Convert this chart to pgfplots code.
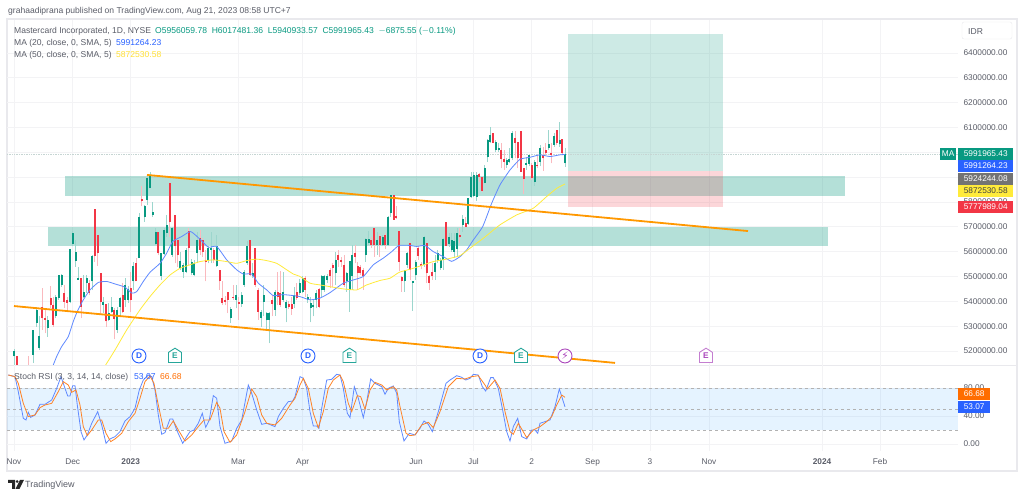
\documentclass[border=0pt]{standalone}
\usepackage{pgfplots}
\usepackage{pgfplotstable}
\usepackage{fontspec}
\setmainfont{Liberation Sans}
\newfontfamily\djv{DejaVu Sans}
\pgfplotsset{compat=1.18}
\definecolor{up}{HTML}{089981}
\definecolor{dn}{HTML}{F23645}
\definecolor{bluem}{HTML}{2962FF}
\definecolor{yel}{HTML}{FFEB3B}
\definecolor{org}{HTML}{FF9800}
\definecolor{txt}{HTML}{5A5D68}
\definecolor{gridc}{HTML}{F3F3F5}
\definecolor{framec}{HTML}{E9E9ED}
\definecolor{rsiorg}{HTML}{FF6D00}
\definecolor{evpurple}{HTML}{AB47BC}
\definecolor{evteal}{HTML}{26A69A}
\pgfdeclareplotmark{house}{%
  \pgfpathmoveto{\pgfqpoint{-\pgfplotmarksize}{-\pgfplotmarksize}}%
  \pgfpathlineto{\pgfqpoint{\pgfplotmarksize}{-\pgfplotmarksize}}%
  \pgfpathlineto{\pgfqpoint{\pgfplotmarksize}{0.55\pgfplotmarksize}}%
  \pgfpathlineto{\pgfqpoint{0pt}{1.2\pgfplotmarksize}}%
  \pgfpathlineto{\pgfqpoint{-\pgfplotmarksize}{0.55\pgfplotmarksize}}%
  \pgfpathclose\pgfusepathqfillstroke}
% x = horizontal bar position, prices in thousands of IDR
\pgfplotstableread{
x h l t b
14 5207 5137 5198 5178
33.3 5285 5151 5285 5184
36.7 5379 5298 5366 5312
39.3 5339 5204 5261 5211
47.7 5339 5258 5325 5292
55.7 5426 5332 5419 5339
58.7 5506 5406 5506 5413
61.7 5509 5459 5506 5466
70 5610 5392 5610 5399
72.7 5685 5621 5674 5631
75.7 5647 5540 5600 5563
78.3 5540 5486 5493 5486
83.7 5506 5413 5439 5419
86.7 5506 5433 5493 5473
92 5587 5446 5584 5480
103.3 5419 5352 5399 5386
108.7 5392 5319 5352 5325
111.7 5419 5352 5379 5359
117 5379 5272 5366 5285
120 5419 5339 5413 5379
125.3 5493 5379 5466 5406
128 5460 5395 5450 5406
133.3 5560 5446 5543 5480
139 5755 5574 5739 5574
144.7 5788 5721 5782 5741
147.3 5913 5788 5896 5808
150 5922 5855 5909 5855
152.7 5798 5741 5761 5748
155.7 5694 5627 5681 5631
161.3 5596 5486 5596 5500
164 5694 5587 5688 5591
166.7 5748 5661 5708 5677
172.3 5701 5580 5694 5587
180.3 5600 5527 5564 5533
183.3 5553 5493 5547 5520
186 5614 5513 5607 5520
191.7 5570 5505 5560 5513
194.3 5567 5500 5553 5506
197 5681 5553 5647 5594
208.3 5621 5553 5614 5567
211 5681 5553 5614 5607
216.7 5667 5540 5621 5543
230.7 5379 5312 5370 5332
236 5466 5372 5426 5406
241.7 5439 5379 5426 5390
244.3 5527 5459 5520 5466
247 5641 5547 5621 5553
252.7 5553 5493 5513 5500
261 5366 5298 5359 5332
263.7 5466 5339 5426 5399
266.7 5359 5285 5352 5323
269 5359 5231 5355 5325
275 5446 5341 5439 5366
283 5520 5399 5439 5406
286 5406 5315 5399 5372
294.3 5459 5372 5426 5390
299.7 5490 5425 5473 5433
302.7 5500 5433 5493 5439
307.7 5430 5395 5419 5406
310.7 5419 5315 5392 5372
313.3 5406 5339 5386 5379
316 5446 5372 5435 5406
321.7 5506 5419 5500 5446
324.3 5506 5439 5502 5446
327 5510 5475 5500 5486
335.7 5600 5466 5567 5513
346.7 5520 5439 5513 5480
349.7 5564 5359 5564 5446
352.3 5627 5446 5587 5500
365.7 5654 5560 5651 5587
368.7 5685 5627 5650 5634
377 5681 5587 5647 5625
382.7 5667 5621 5661 5627
388 5744 5621 5739 5625
390.7 5829 5741 5829 5755
404.7 5527 5439 5527 5480
407.3 5600 5533 5596 5547
412.7 5480 5363 5480 5473
415.7 5567 5486 5560 5506
424 5663 5540 5661 5547
435 5587 5486 5553 5520
437.7 5605 5555 5594 5567
440.7 5574 5527 5567 5533
443.3 5654 5527 5650 5567
449 5675 5620 5661 5631
451.7 5674 5600 5645 5607
454.3 5674 5574 5641 5600
457 5694 5580 5674 5610
462.7 5748 5681 5732 5708
468.3 5815 5708 5815 5712
471 5922 5815 5900 5819
473.7 5922 5822 5909 5824
476.7 5922 5806 5909 5822
484.7 5949 5876 5936 5876
487.7 6053 5963 6050 5980
490.3 6104 6037 6070 6043
495.7 6050 6000 6043 6010
498.7 6039 6003 6016 6010
506.7 5976 5936 5969 5949
509.3 6016 5956 5972 5963
512.3 6084 5969 6079 5976
526.3 5983 5929 5956 5949
529 5990 5943 5990 5953
534.7 5969 5865 5963 5882
540 6030 5943 6016 5963
548.7 6088 6010 6032 6016
554 6077 6023 6066 6030
559.7 6124 6023 6050 6032
565 6017 5941 5992 5956
}\greens
\pgfplotstableread{
x h l t b
17.3 5180 5130 5180 5137
28.3 5178 5137 5140 5135
42.3 5453 5285 5379 5332
45 5366 5272 5332 5325
50.7 5462 5372 5413 5386
53.3 5419 5298 5386 5305
64.3 5466 5372 5435 5399
67.3 5419 5359 5406 5395
81 5493 5332 5493 5379
89.3 5485 5425 5473 5435
94.7 5771 5560 5771 5584
97.7 5667 5544 5667 5594
100.7 5516 5345 5513 5399
106 5390 5298 5390 5319
114.3 5372 5247 5366 5328
122.7 5473 5352 5426 5359
130.7 5520 5359 5453 5406
136.3 5574 5480 5553 5480
141.7 5865 5782 5811 5802
158.3 5678 5587 5678 5594
169.7 5878 5661 5878 5721
175 5748 5553 5748 5621
177.7 5647 5540 5647 5587
188.7 5694 5547 5685 5614
200 5688 5587 5654 5607
202.7 5654 5580 5647 5600
205.7 5607 5480 5567 5560
213.7 5614 5555 5607 5567
219.7 5527 5446 5527 5480
222.3 5480 5386 5413 5392
225 5420 5385 5406 5399
227.7 5439 5352 5439 5406
233.3 5466 5406 5419 5413
238.7 5419 5325 5399 5390
250 5647 5500 5647 5506
255.3 5616 5459 5616 5466
258.3 5453 5325 5446 5359
272 5426 5339 5406 5390
277.7 5520 5386 5439 5419
280.3 5523 5379 5435 5386
288.7 5400 5370 5390 5379
291.7 5419 5345 5390 5368
296.7 5473 5406 5439 5413
305 5500 5419 5493 5446
319 5453 5372 5449 5379
330 5533 5453 5527 5500
332.7 5553 5459 5547 5533
338 5607 5540 5587 5567
341 5580 5540 5567 5560
344 5587 5459 5547 5466
355 5625 5553 5594 5580
357.7 5560 5446 5543 5513
360.3 5547 5506 5540 5513
363.3 5533 5446 5527 5500
371.3 5660 5615 5647 5627
374 5694 5580 5694 5627
379.7 5672 5580 5663 5627
385.3 5675 5610 5667 5625
393.7 5829 5728 5829 5728
396.3 5782 5731 5745 5737
399 5685 5524 5685 5560
401.7 5500 5439 5497 5480
410 5634 5484 5634 5527
418.3 5621 5567 5614 5583
421 5560 5530 5551 5544
426.7 5634 5473 5634 5513
429.3 5506 5446 5500 5473
432.3 5553 5486 5520 5500
446 5721 5621 5721 5623
459.7 5694 5634 5667 5658
465.7 5741 5701 5717 5701
479.3 5916 5882 5913 5902
482 5902 5842 5902 5846
493 6079 6037 6079 6039
501.3 6037 5936 6010 5972
504 6010 5929 5972 5963
515 6084 5976 6057 6037
517.7 6043 5936 6043 5976
520.7 6086 5922 6086 5922
523.7 5936 5833 5936 5892
531.7 5956 5889 5949 5896
537.3 5990 5936 5949 5943
543 6023 5926 5990 5976
545.7 6037 5990 6010 5996
551.3 6037 5956 5996 5990
556.7 6090 6030 6090 6037
562.3 6054 5990 6054 5996
}\reds
\pgfplotstableread{
x v
53.3 5144
56.7 5178
61.7 5218
68.3 5258
73.3 5319
77.3 5359
83.3 5406
90 5446
98.3 5476
106.7 5480
115 5470
125 5457
131.7 5433
136.7 5439
143.3 5480
150 5517
160 5553
166.7 5594
172.7 5641
181.7 5661
190.7 5681
200 5650
208.3 5618
216.7 5621
226.7 5567
236.7 5527
243.3 5510
251.7 5510
258.3 5473
266.7 5446
273.3 5423
283.3 5427
293.3 5423
300 5419
310 5406
320 5413
330 5435
343.3 5473
353.3 5486
363.3 5500
373.3 5547
383.3 5574
391.7 5600
399 5625
410 5625
416.7 5621
425 5625
433.3 5600
443.3 5580
451.7 5561
460 5580
466.7 5607
473.3 5647
482.7 5701
491.7 5795
500 5869
510 5929
520 5972
530 5980
540 5990
550 5983
560 5990
565 5991.3
}\maa
\pgfplotstableread{
x v
105.7 5144
115 5204
126.7 5285
140 5366
150 5419
160 5466
170 5506
180 5533
190 5547
200 5560
213.3 5567
226.7 5560
236.7 5553
246.7 5564
256.7 5570
266.7 5564
276.7 5553
286.7 5527
293.3 5510
300 5500
310 5473
320 5466
330 5459
343.3 5450
356.7 5446
366.7 5466
380 5484
390 5493
399.3 5517
413.3 5533
433.3 5560
446.7 5570
460 5584
470 5614
483.3 5654
500 5708
516.7 5748
533.3 5775
546.7 5822
556.7 5855
565 5872.5
}\mab
\pgfplotstableread{
x v
8.3 98.6
15 96.2
18.3 74.8
23.3 36.7
26 34.3
28.3 45.3
30.7 38.1
35 41.5
40 56.7
45 56.7
51.7 62.9
56.7 79.5
61 96.2
65 79.5
67.7 68.6
70 68.6
72.7 83.3
75 83.3
77.3 55.7
81 17.7
84 5.8
87.3 12.9
91.7 29.6
97.7 46.2
101.7 27.2
106 1
110 7.2
115 10.5
120 17.7
125 32.9
130 39.1
135 51
139.3 77.2
143.3 91.4
148.3 98.6
151.7 96.2
155 77.2
158.3 41.5
161.7 13.9
165 16.2
170 35.8
172.7 35.8
176.7 20
182.7 1
186.7 10.5
190 17.7
194 20
198.3 29.6
202.3 43.9
205.7 23.8
209.3 34.3
213.3 69.1
216.7 65.3
220 24.8
225 1
231.7 4.3
236.7 22.4
241.7 34.3
248.3 84.3
251.7 72.4
256.7 48.6
261.7 28.1
266.7 29.6
275 24.8
278.3 39.1
283.3 51
288.3 60.5
292.7 61.4
295 67.6
300 96.2
303.3 93.8
306.7 79.5
310 46.2
313.3 25.8
316.7 25.8
319 22.4
321.7 51
326.7 91.4
331.7 92.4
336.7 99.5
340 98.6
343.3 79.5
347.3 43.9
350 37.7
354.3 81.9
358.3 65.3
363.3 37.7
366.7 60.5
370.7 92.9
375 86.7
381.7 81.9
385 71
388.3 79.5
393.3 82.9
396.7 72.4
399.3 32
404 4.3
409.3 15.3
415 12.9
420 22.4
424 32.9
428.3 28.1
432.3 17.7
438.3 46.2
446 86.7
450 91.4
456.7 97.6
461.7 95.3
465.7 91.4
470 93.8
473.3 99.5
478.3 98.6
482.3 81.9
485.7 75.7
490.7 94.8
493.3 94.8
498.3 79.5
502.3 51
506.7 17.7
510 4.3
513.3 24.8
517.7 36.7
521.7 10.5
526.7 7.2
531.7 20
535 20
537.7 15.3
540 29.6
545 32
550 34.3
555 53.4
559.3 78.6
565 53.07
}\rsik
\pgfplotstableread{
x v
8.3 98.6
15 96.2
18.3 86.7
23.3 58.1
28.3 39.1
35 41.5
40 52
45 55.7
51.7 58.1
58.3 74.8
63.3 89.1
68.3 84.3
71.7 73.8
76 77.2
80 55.7
83.3 24.8
87.3 12
91.7 20
98.3 34.3
101.7 34.3
106 15.3
110.7 3.4
115 7.2
121.7 15.3
128.3 32
135 43.9
140 65.3
145 89.1
150 97.2
154 86.7
158.3 55.7
163.3 22.4
168.3 22.4
173.3 32.9
178.3 20
185 4.3
191.7 12.9
198.3 24.8
204 34.3
210 34.3
216.7 59.5
220 51
224 17.7
230 2.4
236.7 12.9
245 46.2
251.7 78.6
256.7 67.6
261.7 41.5
266.7 29.6
275 27.2
281.7 36.7
290 55.7
295 65.3
300 84.3
303.3 93.8
308.3 79.5
313.3 43.9
318.3 23.4
323.3 46.2
328.3 79.5
333.3 91.4
340 98.6
343.3 89.1
348.3 58.1
351.7 46.2
357.3 69.1
360.7 67.6
365 49.6
370 77.2
375 88.1
381.7 84.3
386.7 77.2
393.3 81.9
396.7 77.2
400 53.4
406 15.3
410 12
415 12.9
421.7 27.2
428.3 31
433.3 23.4
440 46.2
448.3 81.9
456.7 93.8
465 92.9
471.7 96.2
478.3 97.6
485 84.3
487.3 78.6
495 91.4
500 79.5
505 46.2
510 17.7
513.3 13.9
518.3 29.6
526.7 9.1
533.3 20
540 24.8
546.7 32
551.7 39.1
556.7 55.7
561.7 70
565 66.68
}\rsid
\newcommand{\fs}{\fontsize{8.3}{10}\selectfont}
\newcommand{\fl}{\fontsize{8.55}{10}\selectfont}
\begin{document}
\begin{tikzpicture}[x=1pt,y=1pt]
\path[use as bounding box,fill=white] (0,0) rectangle (1024,497);
% frame
\draw[color=framec,line width=1.2pt] (7,26) rectangle (1017,478);
\draw[color=framec,line width=0.8pt] (7,132) -- (1017,132);
% --- price pane
\begin{axis}[at={(7pt,132pt)},anchor=south west,scale only axis,width=951pt,height=345pt,
  xmin=7,xmax=958,ymin=5143.6,ymax=6532.9,
  axis line style={draw=none},major tick length=0pt,
  grid=major,grid style={gridc,line width=0.7pt},
  xtick={14,72.7,130.7,238.3,302.7,416,473.5,531.7,592.5,650,709,822,880},xticklabels={},
  ytick={5200,5300,5400,5500,5600,5700,5800,5900,6000,6100,6200,6300,6400},
  yticklabels={5200000.00,5300000.00,5400000.00,5500000.00,5600000.00,5700000.00,5800000.00,5900000.00,6000000.00,6100000.00,6200000.00,6300000.00,6400000.00},
  ytick pos=right,yticklabel pos=right,
  yticklabel style={font=\fs,text=txt,anchor=west,xshift=2pt},
  axis on top=false]
% zones
\addplot[fill=up,fill opacity=.3,draw=none] coordinates {(65,5905)(845,5905)(845,5826)(65,5826)} --cycle;
\addplot[fill=up,fill opacity=.3,draw=none] coordinates {(48,5700.5)(828,5700.5)(828,5624)(48,5624)} --cycle;
\addplot[fill=up,fill opacity=.2,draw=none] coordinates {(568,6477)(723,6477)(723,5924.2)(568,5924.2)} --cycle;
\addplot[fill=dn,fill opacity=.2,draw=none] coordinates {(568,5924.2)(723,5924.2)(723,5778)(568,5778)} --cycle;
% last price line
\addplot[up!30!gray!35,line width=.7pt,densely dotted] coordinates {(7,5992)(958,5992)};
% candles: wicks
\addplot[draw=none,error bars/.cd,y dir=plus,y explicit,error mark=none,error bar style={up!40,line width=1pt}] table[x=x,y=l,y error expr=\thisrow{h}-\thisrow{l}] {\greens};
\addplot[draw=none,error bars/.cd,y dir=plus,y explicit,error mark=none,error bar style={dn!35,line width=1pt}] table[x=x,y=l,y error expr=\thisrow{h}-\thisrow{l}] {\reds};
% candles: bodies
\addplot[draw=none,error bars/.cd,y dir=plus,y explicit,error mark=none,error bar style={up,line width=2pt}] table[x=x,y=b,y error expr=\thisrow{t}-\thisrow{b}] {\greens};
\addplot[draw=none,error bars/.cd,y dir=plus,y explicit,error mark=none,error bar style={dn,line width=2pt}] table[x=x,y=b,y error expr=\thisrow{t}-\thisrow{b}] {\reds};
% moving averages
\addplot[bluem!75,line width=.8pt,smooth,tension=.3] table[x=x,y=v] {\maa};
\addplot[yel,line width=.8pt,smooth,tension=.3] table[x=x,y=v] {\mab};
% trend lines
\addplot[org,line width=1.8pt] coordinates {(147,5909)(748,5683)};
\addplot[org,line width=1.8pt] coordinates {(14,5381)(615,5152)};
% events
\addplot[only marks,mark=*,mark size=7pt,mark options={draw=bluem,fill=white,line width=.9pt},
  nodes near coords={D},every node near coord/.style={anchor=center,font=\fs\bfseries,text=bluem}]
  coordinates {(139,5180)(308,5180)(480,5180)};
\addplot[only marks,mark=house,mark size=6.5pt,mark options={draw=evteal,fill=white,line width=.9pt},
  nodes near coords={E},every node near coord/.style={anchor=center,font=\fs\bfseries,text=evteal}]
  coordinates {(175,5180)(349.5,5180)(521,5180)};
\addplot[only marks,mark=house,mark size=6.5pt,mark options={draw=evpurple!70,fill=white,line width=.9pt},
  nodes near coords={E},every node near coord/.style={anchor=center,font=\fs\bfseries,text=evpurple}]
  coordinates {(706,5180)};
\addplot[only marks,mark=*,mark size=7pt,mark options={draw=evpurple,fill=white,line width=.9pt},
  nodes near coords={{\djv\fontsize{10.5}{11}\selectfont ⚡}},every node near coord/.style={anchor=center,text=evpurple}]
  coordinates {(565,5180)};
\end{axis}
% --- RSI pane
\begin{axis}[at={(7pt,46pt)},anchor=south west,scale only axis,width=951pt,height=86pt,
  xmin=7,xmax=958,ymin=-10,ymax=112.86,
  axis line style={draw=none},major tick length=0pt,
  grid=major,grid style={gridc,line width=0.7pt},
  xtick={14,72.7,130.7,238.3,302.7,416,473.5,531.7,592.5,650,709,822,880},
  xticklabels={Nov,Dec,\textbf{2023},Mar,Apr,Jun,Jul,2,Sep,3,Nov,\textbf{2024},Feb},
  xticklabel style={font=\fs,text=txt,yshift=-4pt},
  ytick={0,40,80},yticklabels={0.00,40.00,80.00},
  ytick pos=right,yticklabel pos=right,
  yticklabel style={font=\fs,text=txt,anchor=west,xshift=2pt}]
\addplot[fill=blue!45!cyan,fill opacity=.1,draw=none] coordinates {(7,80)(958,80)(958,20)(7,20)} --cycle;
\addplot[gray!60,dashed,line width=.7pt] coordinates {(7,80)(958,80)};
\addplot[gray!60,dashed,line width=.7pt] coordinates {(7,50)(958,50)};
\addplot[gray!60,dashed,line width=.7pt] coordinates {(7,20)(958,20)};
\addplot[bluem!75,line width=.8pt] table[x=x,y=v] {\rsik};
\addplot[rsiorg!85,line width=.8pt] table[x=x,y=v] {\rsid};
\end{axis}
% --- texts
\tikzset{tt/.style={anchor=west,font=\fl,inner sep=0pt,text=txt},
  box/.style={anchor=west,font=\fs,inner sep=0pt,text=white,minimum height=12pt,minimum width=55pt,align=center}}
\node[tt] at (8,486) {grahaadiprana published on TradingView.com, Aug 21, 2023 08:58 UTC+7};
\node[tt] at (14,466) {Mastercard Incorporated, 1D, NYSE};
\node[tt,text=up] at (155,466) {O5956059.78\ \ H6017481.36\ \ L5940933.57\ \ C5991965.43\ \ $-$6875.55 ($-$0.11\%)};
\node[tt] at (14,454) {MA (20, close, 0, SMA, 5)};
\node[tt,text=bluem] at (116,454) {5991264.23};
\node[tt] at (14,442) {MA (50, close, 0, SMA, 5)};
\node[tt,text=yel!90!orange] at (116,442) {5872530.58};
\node[tt] at (14,120) {Stoch RSI (3, 3, 14, 14, close)};
\node[tt,text=bluem] at (134,120) {53.07};
\node[tt,text=rsiorg] at (160,120) {66.68};
% price scale badges
\node[box,fill=up] at (958,343) {5991965.43};
\node[box,fill=bluem] at (958,331) {5991264.23};
\node[box,fill=gray!90!black] at (958,318) {5924244.08};
\node[box,fill=yel,text=black!75] at (958,306) {5872530.58};
\node[box,fill=dn] at (958,290) {5777989.04};
\node[box,fill=up,minimum width=16pt] at (940,343) {MA};
\node[box,fill=rsiorg,minimum width=32pt] at (958,103) {66.68};
\node[box,fill=bluem,minimum width=32pt] at (958,90) {53.07};
% IDR button
\draw[framec,rounded corners=2pt,fill=white] (962,458) rectangle (1012,475);
\node[tt] at (968,465.5) {IDR};
% TradingView logo
\fill[black!85] (8,17) -- (15,17) -- (15,8) -- (12,8) -- (12,14) -- (8,14) --cycle;
\fill[black!85] (17.2,15.5) circle (1.5);
\fill[black!85] (20,17) -- (24,17) -- (19.5,8) -- (15.5,8) --cycle;
\node[tt,font=\fontsize{9}{10}\selectfont] at (25,12) {TradingView};
\end{tikzpicture}
\end{document}
